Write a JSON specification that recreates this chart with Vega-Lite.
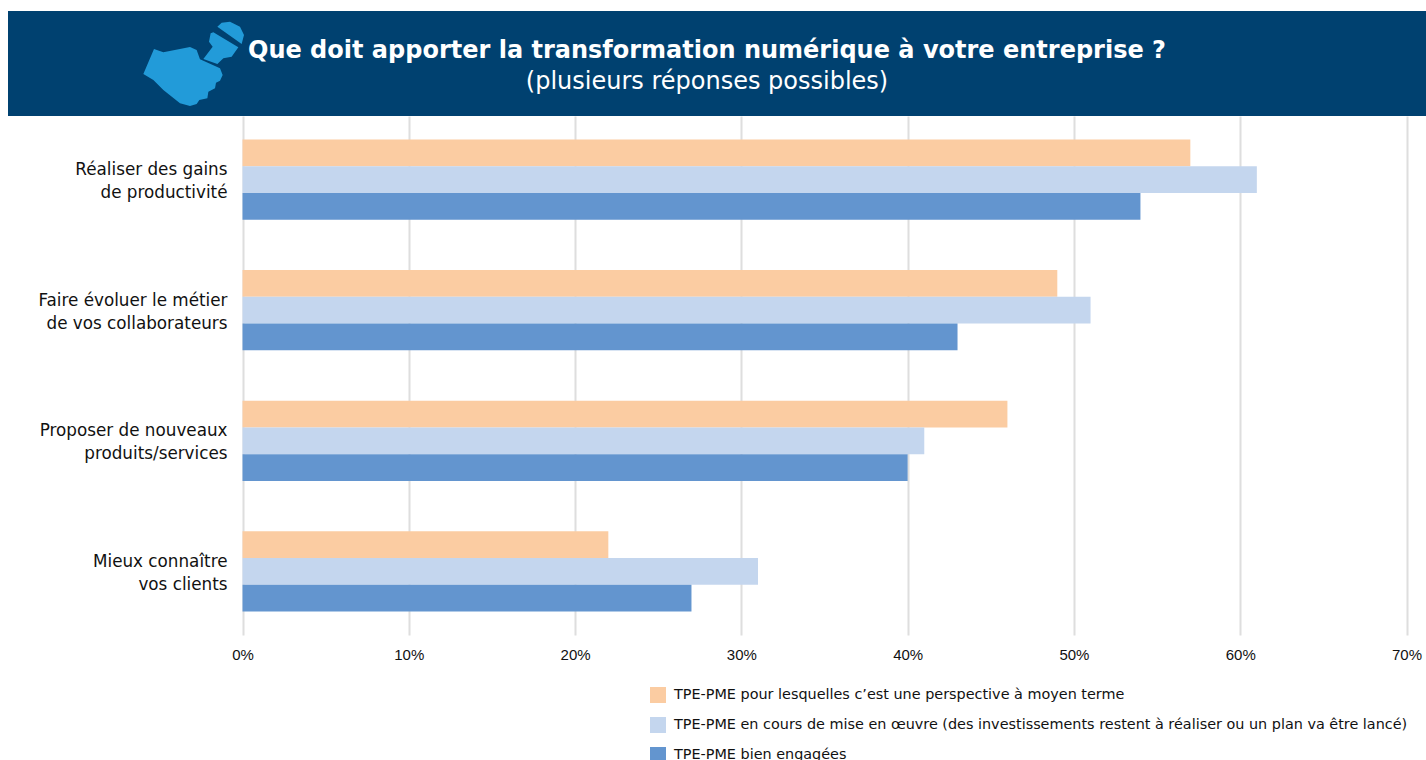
{"$schema":"https://vega.github.io/schema/vega-lite/v6.json","background":"white","padding":{"left":8,"top":11,"right":0,"bottom":0},"autosize":{"type":"pad"},"spacing":0,"config":{"view":{"stroke":null},"font":"DejaVu Sans","concat":{"spacing":0}},"datasets":{"rep":[
{"objectif":"Réaliser des gains|de productivité","statut":"TPE-PME pour lesquelles c’est une perspective à moyen terme","part":57},
{"objectif":"Réaliser des gains|de productivité","statut":"TPE-PME en cours de mise en œuvre (des investissements restent à réaliser ou un plan va être lancé)","part":61},
{"objectif":"Réaliser des gains|de productivité","statut":"TPE-PME bien engagées","part":54},
{"objectif":"Faire évoluer le métier|de vos collaborateurs","statut":"TPE-PME pour lesquelles c’est une perspective à moyen terme","part":49},
{"objectif":"Faire évoluer le métier|de vos collaborateurs","statut":"TPE-PME en cours de mise en œuvre (des investissements restent à réaliser ou un plan va être lancé)","part":51},
{"objectif":"Faire évoluer le métier|de vos collaborateurs","statut":"TPE-PME bien engagées","part":43},
{"objectif":"Proposer de nouveaux|produits/services","statut":"TPE-PME pour lesquelles c’est une perspective à moyen terme","part":46},
{"objectif":"Proposer de nouveaux|produits/services","statut":"TPE-PME en cours de mise en œuvre (des investissements restent à réaliser ou un plan va être lancé)","part":41},
{"objectif":"Proposer de nouveaux|produits/services","statut":"TPE-PME bien engagées","part":40},
{"objectif":"Mieux connaître|vos clients","statut":"TPE-PME pour lesquelles c’est une perspective à moyen terme","part":22},
{"objectif":"Mieux connaître|vos clients","statut":"TPE-PME en cours de mise en œuvre (des investissements restent à réaliser ou un plan va être lancé)","part":31},
{"objectif":"Mieux connaître|vos clients","statut":"TPE-PME bien engagées","part":27}
],"entete":[{"picto":"main"}]},
"vconcat":[
{"width":1418,"height":105,"data":{"name":"entete"},"view":{"fill":"#004170","stroke":null},
"title":{"text":"Que doit apporter la transformation numérique à votre entreprise ?","subtitle":"(plusieurs réponses possibles)","anchor":"middle","frame":"group","orient":"top","offset":-83,"dx":-10,"color":"#ffffff","font":"DejaVu Sans","fontSize":24,"fontWeight":"bold","subtitleColor":"#ffffff","subtitleFont":"DejaVu Sans","subtitleFontSize":24,"subtitleFontWeight":"normal","subtitlePadding":7},
"mark":{"type":"point","filled":true,"opacity":1,"color":"#229BD9","strokeWidth":0,"size":10000,"shape":"M-1.003 .19L-.79 -.31L-.603 -.243L-.07 -.35L.063 -.29L.13 -.103L.53 .077L.583 .21L.53 .323L.45 .363L.43 .477L.297 .543L.277 .677L.117 .71L.063 .79L-.07 .83L-.27 .777L-.603 .51L-.803 .31ZM.197 -.11L.383 -.357L.31 -.457L.343 -.623L.397 -.643L.897 -.343L.763 -.157L.597 -.123L.477 -.01ZM.477 -.757L.563 -.837L.73 -.857L.93 -.757L1.01 -.59L.963 -.41Z"},
"encoding":{"x":{"value":185.5},"y":{"value":53.5}}},
{"width":1418,"height":519,"data":{"name":"rep"},"mark":{"type":"bar"},
"encoding":{
"y":{"field":"objectif","type":"nominal","sort":null,"title":null,"scale":{"paddingInner":0.385,"paddingOuter":0.18},"axis":{"domain":false,"ticks":false,"grid":false,"labelFontSize":16.8,"labelFont":"DejaVu Sans","labelColor":"#111111","labelPadding":0,"offset":-219,"labelLimit":300,"labelLineHeight":23,"labelOffset":-9.5,"minExtent":0,"maxExtent":0,"labelExpr":"split(datum.value,'|')"}},
"yOffset":{"field":"statut","type":"nominal","sort":null,"scale":{"domain":["TPE-PME pour lesquelles c’est une perspective à moyen terme","TPE-PME en cours de mise en œuvre (des investissements restent à réaliser ou un plan va être lancé)","TPE-PME bien engagées"],"paddingInner":0,"paddingOuter":0}},
"x":{"field":"part","type":"quantitative","title":null,"scale":{"domain":[0,70],"nice":false,"range":[234.5,1398.5]},"axis":{"values":[0,10,20,30,40,50,60,70],"labelExpr":"datum.value+'%'","domain":false,"ticks":false,"grid":true,"gridColor":"#dedede","gridWidth":2,"labelFont":"Liberation Sans","labelFontSize":15,"labelColor":"#111111","labelPadding":12,"labelFlush":false}},
"color":{"field":"statut","type":"nominal","title":null,"scale":{"domain":["TPE-PME pour lesquelles c’est une perspective à moyen terme","TPE-PME en cours de mise en œuvre (des investissements restent à réaliser ou un plan va être lancé)","TPE-PME bien engagées"],"range":["#FBCCA2","#C4D6EE","#6395CF"]},"legend":{"orient":"none","legendX":642,"legendY":676,"direction":"vertical","symbolType":"square","symbolSize":256,"symbolStrokeWidth":0,"symbolOpacity":1,"labelFont":"DejaVu Sans","labelFontSize":14.4,"labelColor":"#111111","labelLimit":800,"rowPadding":14,"labelOffset":8}}
}}
]}
